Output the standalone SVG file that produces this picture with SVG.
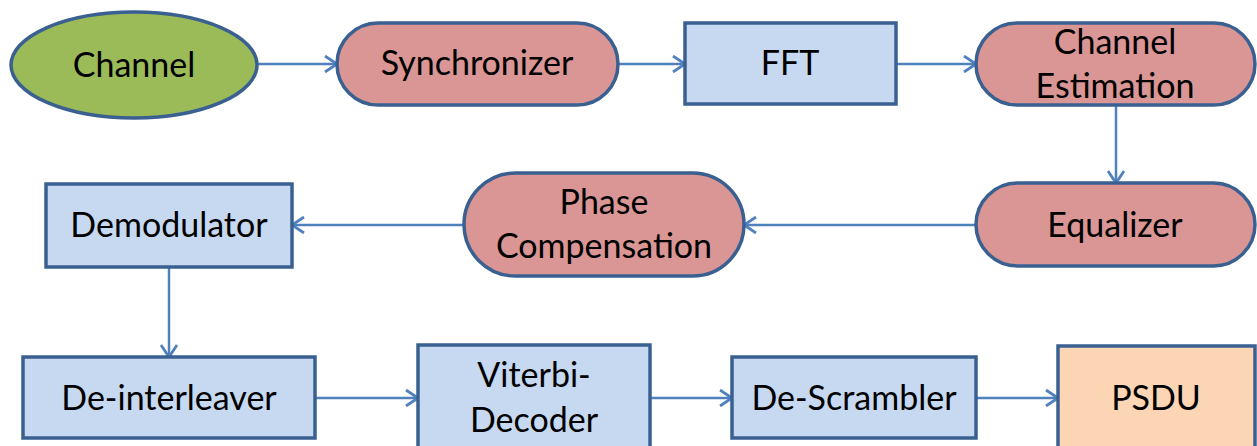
<svg xmlns="http://www.w3.org/2000/svg" width="1257" height="446" viewBox="0 0 1257 446">
  <style>
    .node { stroke: #3A6091; stroke-width: 3.5; }
    .green { fill: #9BBB59; }
    .pink { fill: #D99694; }
    .blue { fill: #C6D9F1; }
    .peach { fill: #FCD5B5; }
    .label { font-family: Lato, "Open Sans", sans-serif; font-size: 34px; fill: #000; text-anchor: middle; }
    .edge { stroke: #4F81BD; stroke-width: 2.5; fill: none; marker-end: url(#arrow); }
  </style>
  <defs>
    <!-- open chevron arrowhead shared by every connector -->
    <marker id="arrow" viewBox="0 0 14 18" refX="13" refY="9" markerWidth="14" markerHeight="18" markerUnits="userSpaceOnUse" orient="auto">
      <polyline points="1,1 13,9 1,17" fill="none" stroke="#4F81BD" stroke-width="2.8"/>
    </marker>
  </defs>
  <rect width="1257" height="446" fill="#FFFFFF"/>

  <g id="connectors">
    <line class="edge" x1="257" y1="64" x2="337" y2="64"/>
    <line class="edge" x1="618" y1="64" x2="685" y2="64"/>
    <line class="edge" x1="896" y1="64" x2="976" y2="64"/>
    <line class="edge" x1="1116" y1="105" x2="1116" y2="183"/>
    <line class="edge" x1="976" y1="225" x2="744" y2="225"/>
    <line class="edge" x1="464" y1="225" x2="292" y2="225"/>
    <line class="edge" x1="169" y1="267" x2="169" y2="357"/>
    <line class="edge" x1="315" y1="398" x2="418" y2="398"/>
    <line class="edge" x1="650" y1="398" x2="732" y2="398"/>
    <line class="edge" x1="976" y1="398" x2="1058" y2="398"/>
  </g>

  <g id="channel">
    <ellipse class="node green" cx="134" cy="65" rx="123" ry="53"/>
    <text class="label" x="134" y="77">Channel</text>
  </g>
  <g id="synchronizer">
    <rect class="node pink" x="337" y="23" width="281" height="82" rx="41" ry="41"/>
    <text class="label" x="477" y="75">Synchronizer</text>
  </g>
  <g id="fft">
    <rect class="node blue" x="685" y="23" width="211" height="81"/>
    <text class="label" x="790" y="75">FFT</text>
  </g>
  <g id="channel-estimation">
    <rect class="node pink" x="976" y="23" width="279" height="82" rx="41" ry="41"/>
    <text class="label" x="1115" y="54">Channel</text>
    <text class="label" x="1115" y="98">Estimation</text>
  </g>
  <g id="equalizer">
    <rect class="node pink" x="976" y="183" width="279" height="83" rx="41.5" ry="41.5"/>
    <text class="label" x="1115" y="237">Equalizer</text>
  </g>
  <g id="phase-compensation">
    <rect class="node pink" x="464" y="173" width="280" height="103" rx="51.5" ry="51.5"/>
    <text class="label" x="604" y="214">Phase</text>
    <text class="label" x="604" y="258">Compensation</text>
  </g>
  <g id="demodulator">
    <rect class="node blue" x="46" y="184" width="246" height="83"/>
    <text class="label" x="169" y="237">Demodulator</text>
  </g>
  <g id="de-interleaver">
    <rect class="node blue" x="23" y="357" width="292" height="81"/>
    <text class="label" x="169" y="410">De-interleaver</text>
  </g>
  <g id="viterbi-decoder">
    <rect class="node blue" x="418" y="345" width="232" height="110"/>
    <text class="label" x="534" y="387">Viterbi-</text>
    <text class="label" x="534" y="432">Decoder</text>
  </g>
  <g id="de-scrambler">
    <rect class="node blue" x="732" y="357" width="244" height="81"/>
    <text class="label" x="854" y="410">De-Scrambler</text>
  </g>
  <g id="psdu">
    <rect class="node peach" x="1058" y="346" width="197" height="110"/>
    <text class="label" x="1156" y="410">PSDU</text>
  </g>
</svg>
